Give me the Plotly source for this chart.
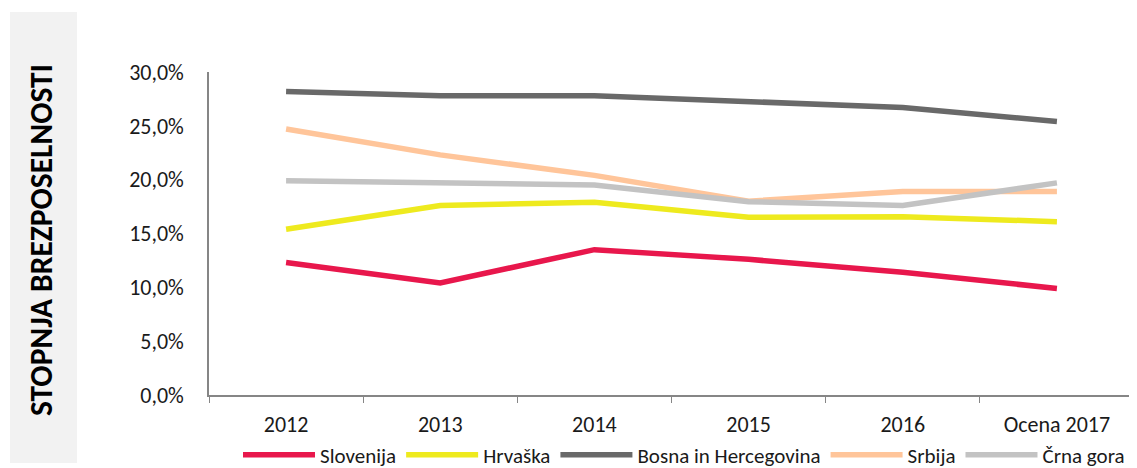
import plotly.graph_objects as go

categories = ["2012", "2013", "2014", "2015", "2016", "Ocena 2017"]
slovenija = [12.3, 10.4, 13.5, 12.6, 11.4, 9.9]
hrvaska = [15.4, 17.6, 17.9, 16.5, 16.55, 16.1]
bosna = [28.2, 27.8, 27.8, 27.2, 26.7, 25.4]
srbija = [24.7, 22.3, 20.4, 18.0, 18.9, 18.9]
crna_gora = [19.9, 19.7, 19.5, 17.95, 17.6, 19.7]
y_ticks = [0, 5, 10, 15, 20, 25, 30]
y_tick_labels = ["0,0%", "5,0%", "10,0%", "15,0%", "20,0%", "25,0%", "30,0%"]

series = [
    ("Slovenija", slovenija, "#E8174C"),
    ("Hrvaška", hrvaska, "#EEEA1E"),
    ("Bosna in Hercegovina", bosna, "#696969"),
    ("Srbija", srbija, "#FFC59A"),
    ("Črna gora", crna_gora, "#C3C3C3"),
]

FONT = "Carlito, Lato, Liberation Sans, sans-serif"

fig = go.Figure()
for name, vals, color in series:
    fig.add_trace(go.Scatter(
        x=categories, y=vals, name=name, mode="lines",
        line=dict(color=color, width=5.5),
    ))

# page body has an 8px margin: work in reference coords minus 8
OFF = 8
W, H = 1137 - OFF, 468 - OFF
L, R, T, B = 209 - OFF, 3, 72 - OFF, 73
pw = W - L - R
ph = H - T - B


def px(xr):
    return (xr - OFF - L) / pw


def py(yr):
    return (H - B - (yr - OFF)) / ph


fig.update_layout(
    width=W, height=H,
    margin=dict(l=L, r=R, t=T, b=B, autoexpand=False),
    paper_bgcolor="white", plot_bgcolor="white",
    font=dict(family=FONT, size=20, color="#1a1a1a"),
    showlegend=True,
    legend=dict(
        orientation="h", x=px(684), xanchor="center",
        y=py(455), yanchor="middle",
        font=dict(family=FONT, size=21, color="#1a1a1a"),
        itemwidth=72, tracegroupgap=0,
        bgcolor="rgba(0,0,0,0)", borderwidth=0,
    ),
    xaxis=dict(
        type="category", showgrid=False, showline=True, linecolor="#868686",
        linewidth=1.5, ticks="outside", tickson="boundaries", ticklen=6,
        tickcolor="#868686", tickfont=dict(family=FONT, size=22, color="#1a1a1a"),
        ticklabelstandoff=9, range=[-0.5, 5.5], automargin=False,
    ),
    yaxis=dict(
        range=[0, 30], tickvals=y_ticks, ticktext=y_tick_labels,
        showgrid=False, showline=True, linecolor="#868686", linewidth=1.5,
        zeroline=False, ticks="", tickfont=dict(family=FONT, size=22, color="#1a1a1a"),
        ticklabelstandoff=19, automargin=False,
    ),
    shapes=[dict(
        type="rect", xref="paper", yref="paper", layer="below",
        x0=px(10), x1=px(77), y0=py(463), y1=py(12),
        fillcolor="#F2F2F2", line=dict(width=0),
    )],
    annotations=[dict(
        text="<b>STOPNJA BREZPOSELNOSTI</b>", xref="paper", yref="paper",
        x=px(41), y=py(240), textangle=-90,
        showarrow=False, font=dict(size=31.5, color="#000000", family=FONT),
        xanchor="center", yanchor="middle",
    )],
)

fig.write_html("out.html")
